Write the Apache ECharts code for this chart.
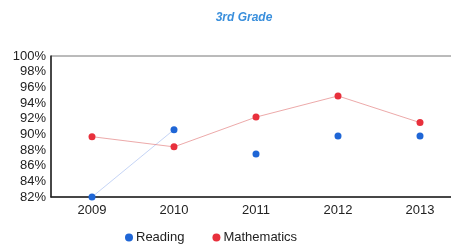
<!DOCTYPE html>
<html>
<head>
<meta charset="utf-8">
<script src="https://cdn.jsdelivr.net/npm/echarts@6/dist/echarts.min.js"></script>
<style>
  html, body { margin: 0; padding: 0; background: #fff; overflow: hidden; }
  /* plot runs past the right edge of the picture, so the canvas is a bit wider */
  #chart { width: 461px; height: 246px; }
</style>
</head>
<body>
<div id="chart"></div>
<script>
// 数据
const years = ["2009", "2010", "2011", "2012", "2013"];
const reading = [82.0, 90.6, 87.5, 89.8, 89.8];
const mathematics = [89.7, 88.4, 92.2, 94.9, 91.5];
const yTicks = [82, 84, 86, 88, 90, 92, 94, 96, 98, 100];

const blue = "#1f66d6";
const red = "#e8303c";
const font = "Liberation Sans";

// only the first reading segment shows a faint line
const readingTrend = reading.map((v, i) => (i < 2 ? v : null));

const chart = echarts.init(document.getElementById("chart"));
chart.setOption({
  animation: false,
  title: {
    text: "3rd Grade",
    left: 239,
    textAlign: "center",
    top: 7,
    textStyle: { color: "#3a8fdc", fontSize: 12, fontStyle: "italic", fontWeight: "bold", fontFamily: font }
  },
  legend: {
    data: ["Reading", "Mathematics"],
    left: 120,
    top: 226,
    itemGap: 28,
    itemWidth: 8,
    itemHeight: 8,
    icon: "circle",
    textStyle: { color: "#222", fontSize: 13, fontFamily: font, padding: [0, 0, 0, -2] }
  },
  grid: {
    left: 51, right: 0, top: 56, bottom: 49,
    show: true, borderColor: "#777", borderWidth: 1
  },
  xAxis: {
    type: "category",
    data: years,
    boundaryGap: true,
    axisLine: { lineStyle: { color: "#222", width: 1.5 } },
    axisTick: { show: false },
    axisLabel: { color: "#222", fontSize: 13, fontFamily: font, margin: 7 }
  },
  yAxis: {
    type: "value",
    min: yTicks[0],
    max: yTicks[yTicks.length - 1],
    interval: 2,
    axisLine: { show: true, lineStyle: { color: "#222", width: 1.5 } },
    axisTick: { show: false },
    splitLine: { show: false },
    axisLabel: { color: "#222", fontSize: 13, fontFamily: font, margin: 5, formatter: "{value}%" }
  },
  series: [
    {
      name: "Reading",
      type: "line",
      data: reading,
      symbol: "circle",
      symbolSize: 7,
      itemStyle: { color: blue },
      lineStyle: { width: 0 },
      z: 3
    },
    {
      name: "ReadingTrend",
      type: "line",
      data: readingTrend,
      symbol: "none",
      lineStyle: { color: "#9fb8ee", width: 1, opacity: 0.6 },
      z: 1
    },
    {
      name: "Mathematics",
      type: "line",
      data: mathematics,
      symbol: "circle",
      symbolSize: 7,
      itemStyle: { color: red },
      lineStyle: { color: "#e07070", width: 1, opacity: 0.6 },
      z: 2
    }
  ]
});
</script>
</body>
</html>
